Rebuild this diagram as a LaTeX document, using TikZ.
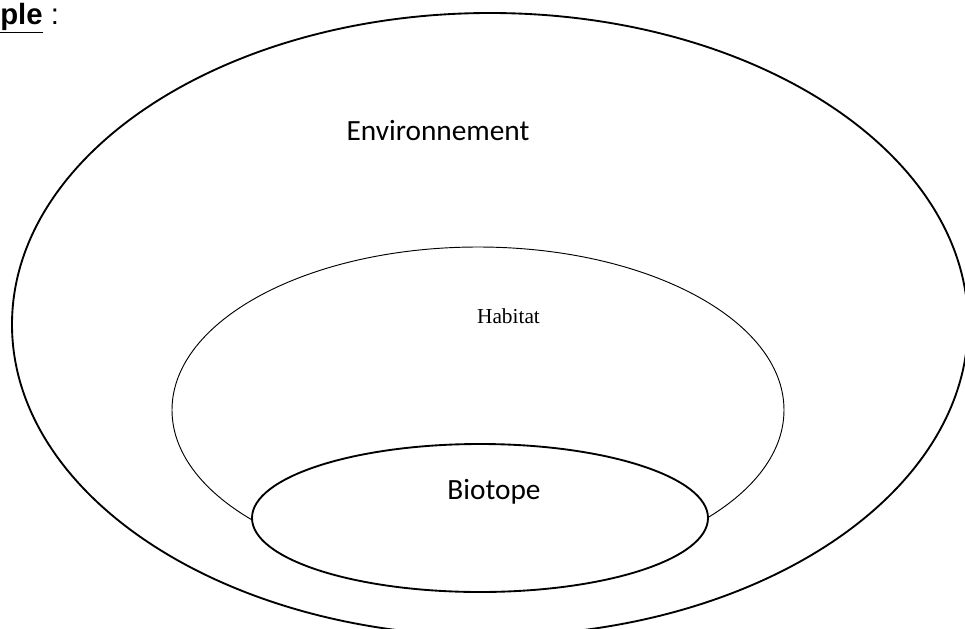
\documentclass[tikz,border=0pt]{standalone}
\usepackage{fontspec}
\setmainfont{Carlito}
\newfontfamily\serifhab{Liberation Serif}
\newfontfamily\sanshead{Liberation Sans}
\usepackage{tikz}

\begin{document}
\begin{tikzpicture}[x=0.75pt,y=-0.75pt]
    \useasboundingbox (0,0) rectangle (965,629);
    \clip (0,0) rectangle (965,629);

    % Heading
    \node[anchor=base west,inner sep=0pt,font=\sanshead\fontsize{22}{26}\selectfont] (titre) at (0,24) {\textbf{\underline{ple}} :};

    % Nested sets
    \draw[line width=1.4pt] (490,324.5) ellipse (478 and 311.5);
    \coordinate (env) at (490,324.5);
    \draw[line width=0.7pt] (478,410) ellipse (306 and 163);
    \coordinate (hab) at (478,410);
    \draw[line width=1.4pt,fill=white] (480,518) ellipse (228 and 74);
    \coordinate (bio) at (480,518);

    % Labels
    \node[anchor=base,inner sep=0pt,font=\fontsize{22}{26}\selectfont] (envlabel) at (438,140) {Environnement};
    \node[anchor=base,inner sep=0pt,font=\serifhab\fontsize{16}{19}\selectfont] (hablabel) at (508.5,323) {Habitat};
    \node[anchor=base,inner sep=0pt,font=\fontsize{22}{26}\selectfont] (biolabel) at (494,499) {Biotope};
\end{tikzpicture}
\end{document}
